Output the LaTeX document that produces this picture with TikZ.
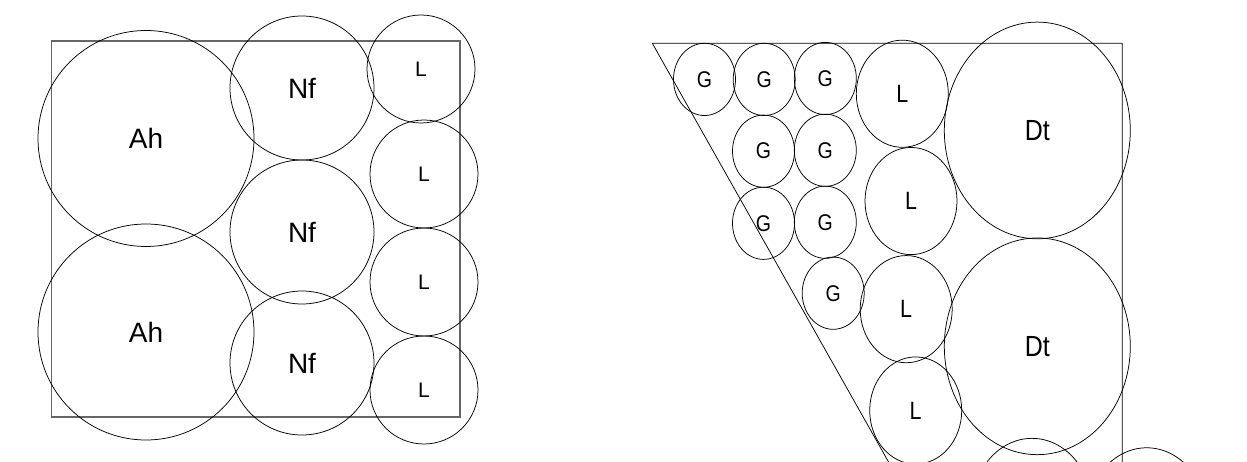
\documentclass[tikz,border=0pt]{standalone}
\usepackage{fontspec}
\setmainfont{Liberation Sans}
\begin{document}
\begin{tikzpicture}[x=1pt,y=1pt,
	ball/.style={circle,draw,inner sep=0pt,line width=0.75pt},
	ahball/.style={ball,minimum size=216pt,font=\fontsize{28}{28}\selectfont},
	nfball/.style={ball,minimum size=144pt,font=\fontsize{28}{28}\selectfont},
	lball/.style={ball,minimum size=108pt,font=\fontsize{21}{21}\selectfont},
	gball/.style={ball,minimum size=62pt,font=\fontsize{19.5}{19.5}\selectfont},
	rlball/.style={ball,minimum size=92pt,font=\fontsize{21.5}{21.5}\selectfont},
	dtball/.style={ball,minimum size=186pt,font=\fontsize{25}{25}\selectfont},
	bball/.style={ball,minimum size=120pt}]
	\useasboundingbox (0,0) rectangle (1247,461);
	\clip (0,0) rectangle (1247,461);
	% left: square box
	\draw [line width=1.3pt,color=black!60] (51.7,44) rectangle (460,420);
	\node[ahball] (ah1) at (146,322.5) {Ah};
	\node[ahball] (ah2) at (146,129) {Ah};
	\foreach \y [count=\n] in {373,229,98}{
		\node[nfball] (nf\n) at (302,\y) {Nf};
	}
	\foreach \x/\y [count=\n] in {421/392,424/287,424/179,424/71}{
		\node[lball] (l\n) at (\x,\y) {L};
	}
	% right: slanted box, stretched upright
	\begin{scope}[shift={(0,417.7)},yscale=1.165,transform shape]
		\draw [line width=0.75pt] (928.4,-420)--(652.3,0)--(1122.3,0)--(1122.3,-420);
		\foreach \x/\y [count=\n] in {704.5/-31,764.2/-31,825.3/-30.2,763.5/-92.6,825.3/-91.8,763.5/-154.5,825.3/-153.6,833.2/-214.5}{
			\node[gball] (g\n) at (\x,\y) {G};
		}
		\foreach \x/\y [count=\n] in {902.3/-43.3,911/-135.4,906.2/-228.2,915.7/-315.2}{
			\node[rlball] (rl\n) at (\x,\y) {L};
		}
		\node[dtball] (dt1) at (1037.3,-74.8) {Dt};
		\node[dtball] (dt2) at (1037.3,-260.1) {Dt};
		\node[bball] (b1) at (1032,-399.1) {};
		\node[bball] (b2) at (1146.7,-407.2) {};
	\end{scope}
\end{tikzpicture}
\end{document}
